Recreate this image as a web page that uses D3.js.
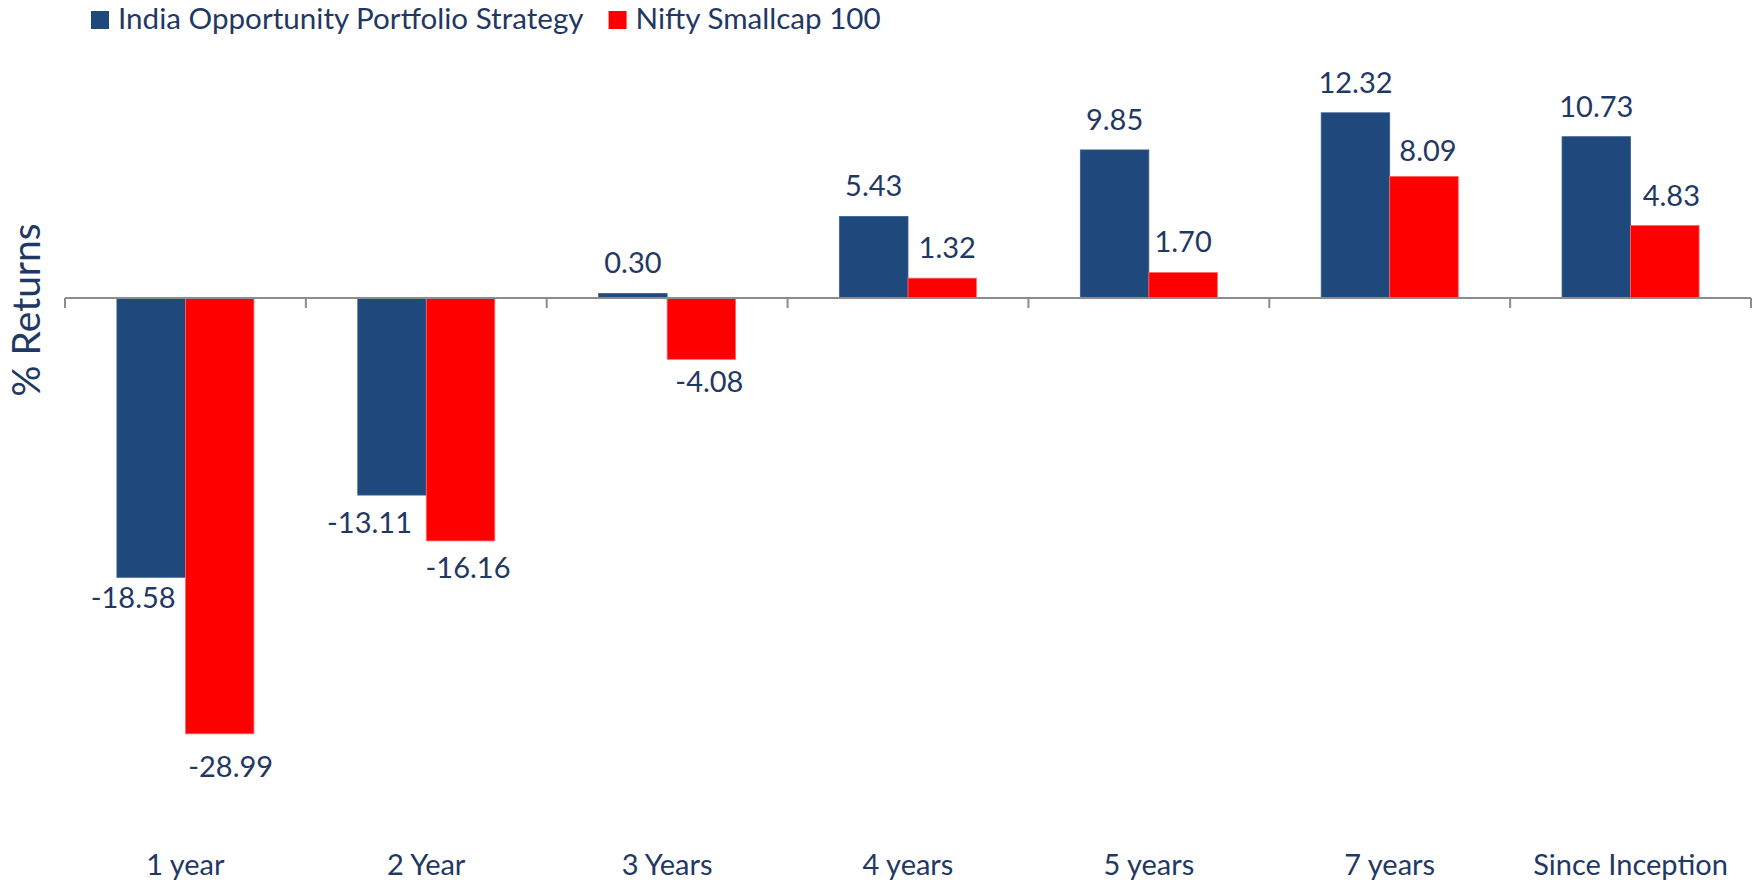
<!DOCTYPE html>
<html>
<head>
<meta charset="utf-8">
<script src="https://cdn.jsdelivr.net/npm/d3@7/dist/d3.min.js"></script>
<style>
  html, body { margin: 0; padding: 0; background: #ffffff; }
  svg { display: block; }
  text { font-family: Lato, "Open Sans", "Noto Sans", sans-serif; fill: #1f3864; }
</style>
</head>
<body>
<svg id="chart" width="1752" height="886"></svg>
<script>
// ---- data ----
const categories = ["1 year", "2 Year", "3 Years", "4 years", "5 years", "7 years", "Since Inception"];
const seriesNames = ["India Opportunity Portfolio Strategy", "Nifty Smallcap 100"];
const portfolioValues = [-18.58, -13.11, 0.30, 5.43, 9.85, 12.32, 10.73];
const benchmarkValues = [-28.99, -16.16, -4.08, 1.32, 1.70, 8.09, 4.83];
const yAxisTitle = "% Returns";

// ---- layout / style ----
const colors = ["#1f497d", "#ff0000"];
const strokes = ["#3d5f8c", "#ff6b6b"];
const labelFont = 29;
const legendFont = 29.6;
// label nudges [dx, dy] keyed "seriesIndex-categoryIndex"
const labelNudge = {
  "0-0": [-18, -2], "1-0": [11, 10],
  "0-1": [-22.5, 5], "1-1": [7.5, 4],
  "1-2": [8, 0],
  "1-3": [5, 0],
  "1-5": [4, 5], "1-6": [6.5, 1]
};

const svg = d3.select("#chart");
const data = categories.map((c, i) => ({ cat: c, vals: [portfolioValues[i], benchmarkValues[i]] }));

const x0 = d3.scaleBand().domain(categories).range([65, 1751]).paddingInner(0).paddingOuter(0);
const groupW = x0.bandwidth() * 0.569;
const x1 = d3.scaleBand().domain([0, 1]).range([0, groupW]);
const y = d3.scaleLinear().domain([-30, 15]).range([749, 72.5]);

// bars
const groups = svg.append("g").selectAll("g").data(data).join("g")
  .attr("transform", d => `translate(${x0(d.cat) + (x0.bandwidth() - groupW) / 2},0)`);

groups.selectAll("rect").data(d => d.vals.map((v, s) => ({ v, s }))).join("rect")
  .attr("x", d => x1(d.s))
  .attr("width", x1.bandwidth())
  .attr("y", d => y(Math.max(0, d.v)))
  .attr("height", d => Math.abs(y(d.v) - y(0)))
  .attr("fill", d => colors[d.s])
  .attr("stroke", d => strokes[d.s])
  .attr("stroke-width", 0.8);

// axis at zero with ticks between categories
const axisG = svg.append("g").attr("transform", `translate(0,${y(0)})`);
const boundaries = categories.map(c => x0(c)).concat([x0.range()[1]]);
axisG.append("line")
  .attr("x1", x0.range()[0]).attr("x2", x0.range()[1])
  .attr("y1", 0).attr("y2", 0)
  .attr("stroke", "#8c8c8c").attr("stroke-width", 2);
axisG.selectAll("line.tick").data(boundaries).join("line")
  .attr("class", "tick")
  .attr("x1", d => d).attr("x2", d => d)
  .attr("y1", 0).attr("y2", 10)
  .attr("stroke", "#8c8c8c").attr("stroke-width", 2);

// category labels
svg.append("g").selectAll("text").data(categories).join("text")
  .attr("x", d => x0(d) + x0.bandwidth() / 2)
  .attr("y", 875)
  .attr("text-anchor", "middle")
  .style("font-size", labelFont + "px")
  .text(d => d);

// data labels
groups.selectAll("text").data((d, ci) => d.vals.map((v, s) => ({ v, s, ci }))).join("text")
  .attr("x", d => x1(d.s) + x1.bandwidth() / 2 + (labelNudge[d.s + "-" + d.ci] || [0, 0])[0])
  .attr("y", d => (d.v >= 0 ? y(d.v) - 20 : y(d.v) + 33) + (labelNudge[d.s + "-" + d.ci] || [0, 0])[1])
  .attr("text-anchor", "middle")
  .style("font-size", labelFont + "px")
  .text(d => d.v.toFixed(2));

// y axis title
svg.append("text")
  .attr("transform", "translate(40,310) rotate(-90)")
  .attr("text-anchor", "middle")
  .style("font-size", "39px")
  .text(yAxisTitle);

// legend
const legend = svg.append("g");
let lx = 91;
seriesNames.forEach((name, i) => {
  legend.append("rect").attr("x", lx).attr("y", 11).attr("width", 18).attr("height", 18).attr("fill", colors[i]);
  const t = legend.append("text").attr("x", lx + 27).attr("y", 29)
    .style("font-size", legendFont + "px").text(name);
  lx = lx + 27 + t.node().getComputedTextLength() + 25;
});
</script>
</body>
</html>
